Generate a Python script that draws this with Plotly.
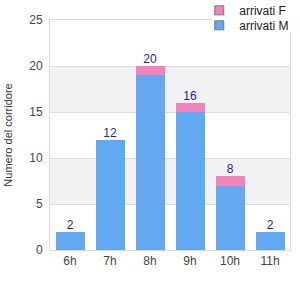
import plotly.graph_objects as go

categories = ["6h", "7h", "8h", "9h", "10h", "11h"]
arrivati_M = [2, 12, 19, 15, 7, 2]
arrivati_F = [0, 0, 1, 1, 1, 0]
totals = [m + f for m, f in zip(arrivati_M, arrivati_F)]
y_ticks = [0, 5, 10, 15, 20, 25]

col_M = "#62a9f2"
col_F = "#f283bb"
FONT = "Liberation Sans, Arial, sans-serif"

fig = go.Figure()
fig.add_trace(go.Bar(x=categories, y=arrivati_M, name="arrivati M",
                     marker=dict(color=col_M, line=dict(width=0)), showlegend=False))
fig.add_trace(go.Bar(x=categories, y=arrivati_F, name="arrivati F",
                     marker=dict(color=col_F, line=dict(width=0)), showlegend=False))
fig.add_trace(go.Scatter(x=categories, y=totals, mode="text",
                         text=[str(t) for t in totals], textposition="top center",
                         textfont=dict(color="#1f1f94", size=12, family=FONT),
                         showlegend=False, hoverinfo="skip"))
# legend entries
fig.add_trace(go.Scatter(x=[None], y=[None], mode="markers", name="arrivati F",
                         legend="legend",
                         marker=dict(symbol="square", size=9, color=col_F,
                                     line=dict(color="#777", width=1))))
fig.add_trace(go.Scatter(x=[None], y=[None], mode="markers", name="arrivati M",
                         legend="legend2",
                         marker=dict(symbol="square", size=9, color=col_M,
                                     line=dict(color="#777", width=1))))

# alternating bands
for i in range(len(y_ticks) - 1):
    if i % 2 == 1:
        fig.add_shape(type="rect", xref="paper", yref="y", x0=0, x1=1,
                      y0=y_ticks[i], y1=y_ticks[i + 1],
                      fillcolor="#f2f2f2", line=dict(width=0), layer="below")

# white legend backdrop covering the frame corner
fig.add_shape(type="rect", xref="paper", yref="paper", x0=0.675, x1=1.05,
              y0=0.948, y1=1.1, fillcolor="white", line=dict(width=0), layer="above")

leg_common = dict(xanchor="left", yanchor="top", bgcolor="rgba(0,0,0,0)",
                  font=dict(size=12, color="#222", family=FONT), borderwidth=0)

fig.update_layout(
    width=300, height=300,
    margin=dict(l=50, r=10, t=20, b=50, autoexpand=False),
    barmode="stack", bargap=0.275,
    plot_bgcolor="rgba(0,0,0,0)", paper_bgcolor="white",
    font=dict(family=FONT, size=12, color="#444"),
    legend=dict(x=0.622, y=1.105, **leg_common),
    legend2=dict(x=0.622, y=1.04, **leg_common),
    xaxis=dict(showline=True, linecolor="#d9d9d9", mirror=True, ticks="",
               tickfont=dict(size=12, color="#444"), showgrid=False),
    yaxis=dict(range=[0, 25], tickvals=y_ticks, showline=True, linecolor="#d9d9d9",
               mirror=True, gridcolor="#dcdcdc", zeroline=False,
               tickfont=dict(size=12, color="#444"), ticklabelstandoff=4,
               title=dict(text="Numero del corridore", font=dict(size=11, color="#333"),
                          standoff=14)),
)

fig.write_html("out.html")
